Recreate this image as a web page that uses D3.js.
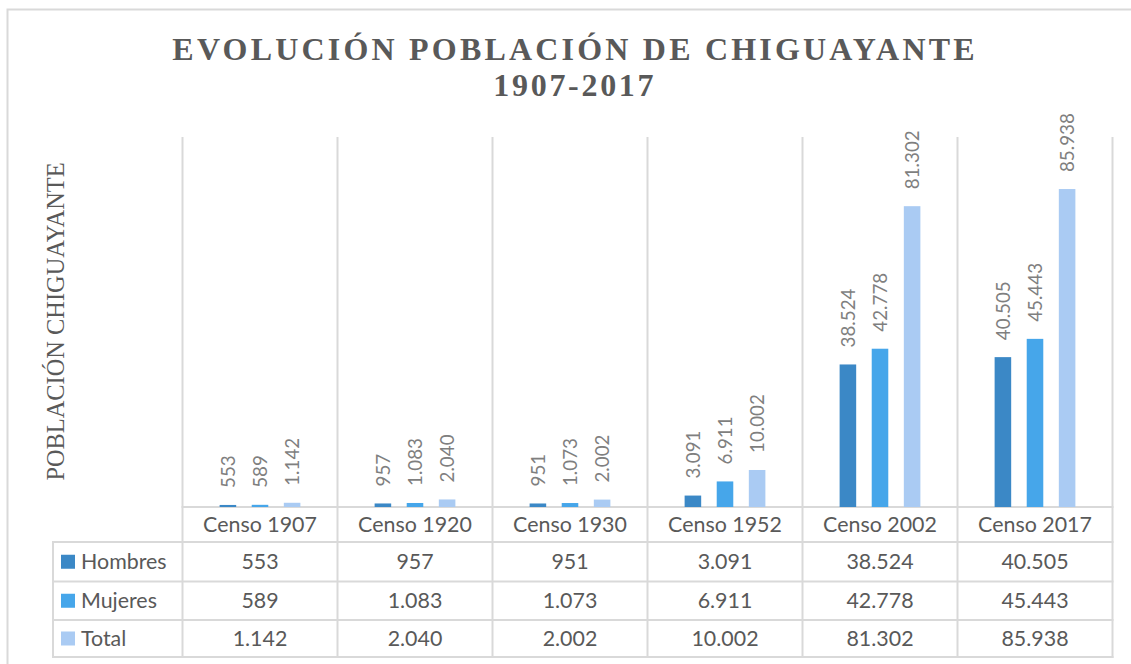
<!DOCTYPE html>
<html><head><meta charset="utf-8">
<script src="https://cdn.jsdelivr.net/npm/d3@7"></script>
<style>body{margin:0;background:#fff}svg{display:block}</style>
</head><body><svg id="c" width="1131" height="664"></svg>
<script>
const titleLines = ["EVOLUCIÓN POBLACIÓN DE CHIGUAYANTE", "1907-2017"];
const yAxisTitle = "POBLACIÓN CHIGUAYANTE";
const categories = ["Censo 1907","Censo 1920","Censo 1930","Censo 1952","Censo 2002","Censo 2017"];
const seriesNames = ["Hombres","Mujeres","Total"];
const hombres = [553, 957, 951, 3091, 38524, 40505];
const mujeres = [589, 1083, 1073, 6911, 42778, 45443];
const total = [1142, 2040, 2002, 10002, 81302, 85938];
const yDomain = [0, 100000];
const seriesColors = ["#3b88c6", "#46a6ea", "#aacbf3"];

const seriesValues = [hombres, mujeres, total];
const es = d3.formatLocale({decimal: ",", thousands: ".", grouping: [3], currency: ["$", ""]});
const fmt = es.format(",d");

const svg = d3.select("#c");
const grid = "#d9d9d9";
const plotL = 182.5, plotR = 1112.5, plotT = 137, base = 507;
const rowLines = [542, 581.5, 620, 657];
const tableL = 53;

// outer border
svg.append("rect").attr("x", 7.5).attr("y", 9.5).attr("width", 1140).attr("height", 680)
  .attr("fill", "#fff").attr("stroke", grid).attr("stroke-width", 2);

const x0 = d3.scaleBand().domain(categories).range([plotL, plotR]);
const x1 = d3.scaleBand().domain(seriesNames).range([0, x0.bandwidth()]).paddingInner(0.484).paddingOuter(1.156);
const y = d3.scaleLinear().domain(yDomain).range([base, plotT]);

// title
const title = svg.append("text").attr("text-anchor", "middle")
  .attr("font-family", "'Liberation Serif','Times New Roman',serif").attr("font-weight", "bold")
  .attr("font-size", 32).attr("fill", "#595959");
titleLines.forEach((t, i) => title.append("tspan")
  .attr("x", i === 0 ? 575.1 : 574.8).attr("y", i === 0 ? 60 : 96)
  .attr("letter-spacing", i === 0 ? "3.2px" : "2.7px").text(t));

// y axis title
svg.append("text").attr("transform", "translate(63.5,321.5) rotate(-90)").attr("text-anchor", "middle")
  .attr("font-family", "'Liberation Serif','Times New Roman',serif").attr("font-size", 24.4)
  .attr("fill", "#595959").text(yAxisTitle);

// vertical gridlines / table column lines
const vx = categories.map(c => x0(c)).concat([plotR]);
svg.append("g").selectAll("line").data(vx).join("line")
  .attr("x1", d => d).attr("x2", d => d).attr("y1", plotT).attr("y2", rowLines[rowLines.length - 1] + 1)
  .attr("stroke", grid).attr("stroke-width", 2);
// axis line
svg.append("line").attr("x1", plotL - 1).attr("x2", plotR + 1).attr("y1", base).attr("y2", base)
  .attr("stroke", grid).attr("stroke-width", 2);
// table rows
svg.append("g").selectAll("line").data(rowLines).join("line")
  .attr("x1", tableL - 1).attr("x2", plotR + 1).attr("y1", d => d).attr("y2", d => d)
  .attr("stroke", grid).attr("stroke-width", 2);
svg.append("line").attr("x1", tableL).attr("x2", tableL).attr("y1", rowLines[0]).attr("y2", rowLines[3] + 1)
  .attr("stroke", grid).attr("stroke-width", 2);

// bars
const g = svg.append("g");
seriesNames.forEach((s, si) => {
  const data = categories.map((c, ci) => ({c, v: seriesValues[si][ci]}));
  g.append("g").selectAll("rect").data(data).join("rect")
    .attr("x", d => x0(d.c) + x1(s)).attr("width", x1.bandwidth())
    .attr("y", d => y(d.v)).attr("height", d => base - y(d.v))
    .attr("fill", seriesColors[si]);
  g.append("g").selectAll("text").data(data).join("text")
    .attr("transform", d => `translate(${x0(d.c) + x1(s) + x1.bandwidth() / 2},${y(d.v) - 17}) rotate(-90)`)
    .attr("dy", "0.36em").attr("text-anchor", "start")
    .attr("font-family", "Lato, sans-serif").attr("font-size", 18.8).attr("fill", "#7f7f7f")
    .text(d => fmt(d.v));
});

const sans = "Lato, sans-serif";
// category header
svg.append("g").selectAll("text").data(categories).join("text")
  .attr("x", d => x0(d) + x0.bandwidth() / 2).attr("y", (base + rowLines[0]) / 2).attr("dy", "0.36em")
  .attr("text-anchor", "middle").attr("font-family", sans).attr("font-size", 21.4).attr("fill", "#595959")
  .text(d => d);

// table rows
seriesNames.forEach((s, si) => {
  const cy = (rowLines[si] + rowLines[si + 1]) / 2;
  svg.append("rect").attr("x", 61).attr("y", cy - 7).attr("width", 14).attr("height", 14).attr("fill", seriesColors[si]);
  svg.append("text").attr("x", 81).attr("y", cy).attr("dy", "0.36em").attr("font-family", sans)
    .attr("font-size", 21.4).attr("fill", "#595959").text(s);
  svg.append("g").selectAll("text").data(categories).join("text")
    .attr("x", d => x0(d) + x0.bandwidth() / 2).attr("y", cy).attr("dy", "0.36em")
    .attr("text-anchor", "middle").attr("font-family", sans).attr("font-size", 21.4).attr("fill", "#595959")
    .text((d, ci) => fmt(seriesValues[si][ci]));
});
</script></body></html>
